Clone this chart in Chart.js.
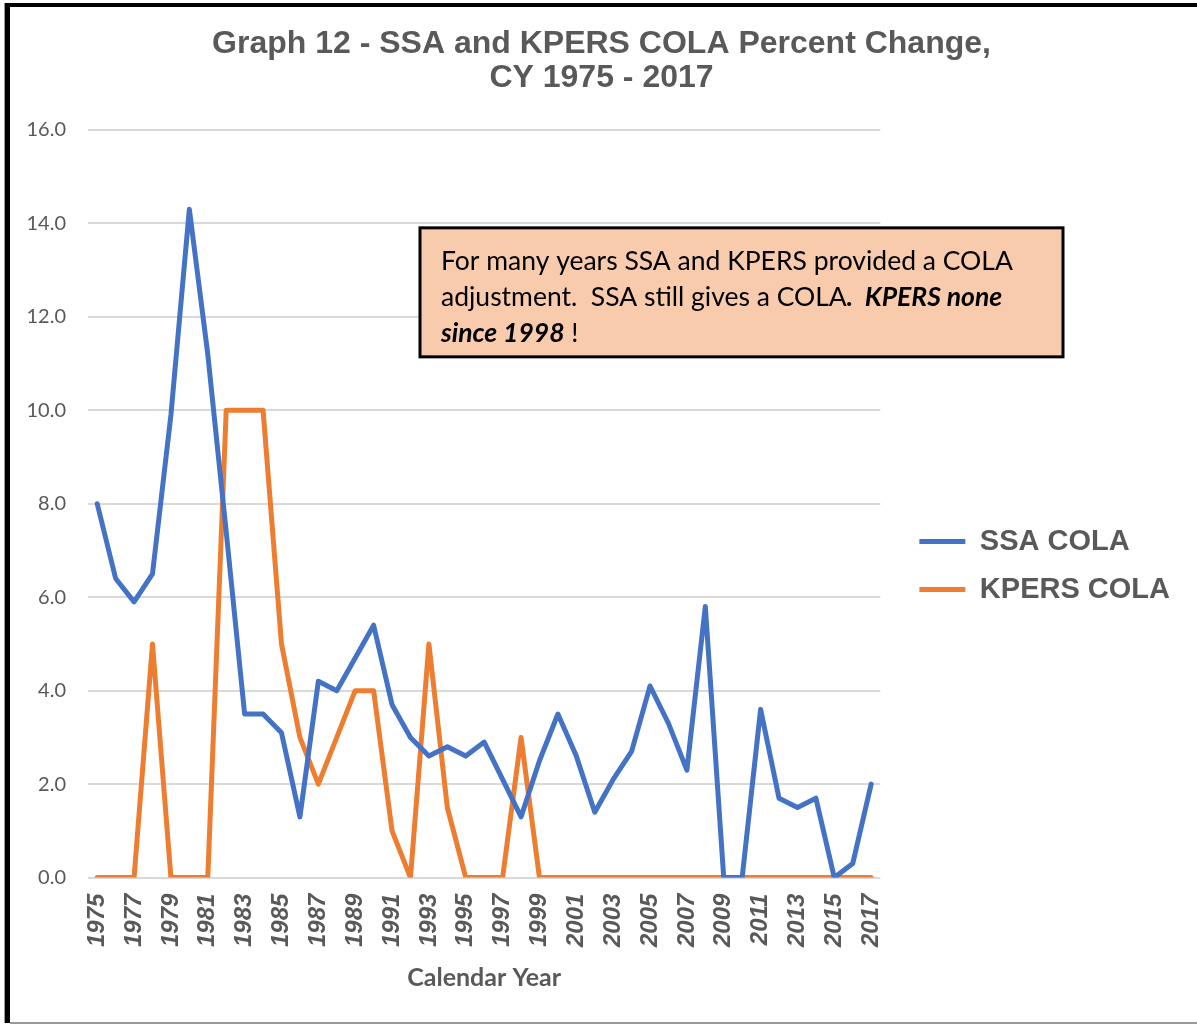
<!DOCTYPE html>
<html>
<head>
<meta charset="utf-8">
<script src="https://cdn.jsdelivr.net/npm/chart.js@4"></script>
<style>
  body { margin: 0; background: #fff; }
  canvas { display: block; }
</style>
</head>
<body>
<canvas id="graficoCola" width="1197" height="1025"></canvas>
<script>
// dados do gráfico
const anos = ['1975', '1976', '1977', '1978', '1979', '1980', '1981', '1982', '1983', '1984',
    '1985', '1986', '1987', '1988', '1989', '1990', '1991', '1992', '1993', '1994',
    '1995', '1996', '1997', '1998', '1999', '2000', '2001', '2002', '2003', '2004',
    '2005', '2006', '2007', '2008', '2009', '2010', '2011', '2012', '2013', '2014',
    '2015', '2016', '2017'];
const ssaCola = [8.0, 6.4, 5.9, 6.5, 9.9, 14.3, 11.2, 7.4, 3.5, 3.5,
    3.1, 1.3, 4.2, 4.0, 4.7, 5.4, 3.7, 3.0, 2.6, 2.8,
    2.6, 2.9, 2.1, 1.3, 2.5, 3.5, 2.6, 1.4, 2.1, 2.7,
    4.1, 3.3, 2.3, 5.8, 0.0, 0.0, 3.6, 1.7, 1.5, 1.7,
    0.0, 0.3, 2.0];
const kpersCola = [0, 0, 0, 5, 0, 0, 0, 10, 10, 10,
    5, 3, 2, 3, 4, 4, 1, 0, 5, 1.5,
    0, 0, 0, 3, 0, 0, 0, 0, 0, 0,
    0, 0, 0, 0, 0, 0, 0, 0, 0, 0,
    0, 0, 0];
const tituloGrafico = ['Graph 12 - SSA and KPERS COLA Percent Change,', 'CY 1975 - 2017'];

const cinza = '#595959';
const fonteTexto = 'Lato, "Open Sans", sans-serif';
const fonteArial = '"Liberation Sans", Arial, sans-serif';

// moldura da imagem
const moldura = {
    id: 'moldura',
    beforeDraw(chart) {
        const ctx = chart.ctx;
        ctx.save();
        ctx.fillStyle = '#fff';
        ctx.fillRect(0, 0, chart.width, chart.height);
        ctx.fillStyle = '#000';
        ctx.fillRect(5, 3, chart.width - 5, 4);
        ctx.fillRect(5, 3, 5, chart.height - 5);
        ctx.fillStyle = '#999';
        ctx.fillRect(4, 3, 1, chart.height - 5);
        ctx.fillRect(10, chart.height - 3, chart.width - 10, 2);
        ctx.restore();
    }
};

// caixa de texto com a observação
const caixaNota = {
    id: 'caixaNota',
    afterDraw(chart) {
        const ctx = chart.ctx;
        const area = chart.chartArea;
        const x = area.left + 332;
        const y = area.top + 98;
        const w = 643;
        const h = 129;
        ctx.save();
        ctx.fillStyle = '#F8CBAD';
        ctx.fillRect(x, y, w, h);
        ctx.lineWidth = 3;
        ctx.strokeStyle = '#000';
        ctx.strokeRect(x, y, w, h);

        const normal = '26.5px ' + fonteTexto;
        const negrito = 'italic bold 26.5px ' + fonteTexto;
        const linhas = [
            [['For many years SSA and KPERS provided a COLA', normal]],
            [['adjustment.  SSA still gives a COLA', normal], ['.  KPERS none', negrito]],
            [['since 1998', negrito], [' !', normal]]
        ];
        ctx.fillStyle = '#000';
        ctx.textBaseline = 'middle';
        linhas.forEach((partes, i) => {
            let px = x + 21;
            const py = y + 33.5 + i * 36;
            partes.forEach(([txt, fonte]) => {
                ctx.font = fonte;
                ctx.fillText(txt, px, py);
                px += ctx.measureText(txt).width;
            });
        });
        ctx.restore();
    }
};

new Chart(document.getElementById('graficoCola'), {
    type: 'line',
    data: {
        labels: anos,
        datasets: [
            {
                label: 'SSA COLA',
                data: ssaCola,
                borderColor: '#4472C4',
                backgroundColor: '#4472C4',
                borderWidth: 5,
                pointRadius: 0,
                borderCapStyle: 'round',
                borderJoinStyle: 'round'
            },
            {
                label: 'KPERS COLA',
                data: kpersCola,
                borderColor: '#ED7D31',
                backgroundColor: '#ED7D31',
                borderWidth: 5,
                pointRadius: 0,
                borderCapStyle: 'round',
                borderJoinStyle: 'round'
            }
        ]
    },
    options: {
        responsive: false,
        animation: false,
        devicePixelRatio: 1,
        layout: {
            padding: { left: 23, right: 17, top: 0, bottom: 28 }
        },
        plugins: {
            title: {
                display: true,
                text: tituloGrafico,
                color: cinza,
                font: { family: fonteArial, size: 32, weight: 'bold', lineHeight: 1.06 },
                padding: { top: 27, bottom: 35 }
            },
            legend: {
                position: 'right',
                maxWidth: 320,
                title: {
                    display: true,
                    text: ' ',
                    font: { size: 10, lineHeight: 1 },
                    padding: { top: 62, bottom: 62 }
                },
                labels: {
                    usePointStyle: true,
                    pointStyle: 'line',
                    pointStyleWidth: 46,
                    color: cinza,
                    font: { family: fonteArial, size: 29, weight: 'bold' },
                    padding: 19
                }
            },
            tooltip: { enabled: false }
        },
        scales: {
            x: {
                offset: true,
                grid: { display: false },
                border: { display: false },
                ticks: {
                    autoSkip: false,
                    maxRotation: 90,
                    minRotation: 90,
                    padding: 8,
                    color: cinza,
                    font: { family: fonteArial, size: 24, weight: 'bold', style: 'italic' },
                    callback: function (value, index) {
                        return index % 2 === 0 ? anos[index] : null;
                    }
                },
                title: {
                    display: true,
                    text: 'Calendar Year',
                    color: cinza,
                    font: { family: fonteTexto, size: 25, weight: 'bold' },
                    padding: { top: 8 }
                }
            },
            y: {
                min: 0,
                max: 16,
                grid: { color: '#D9D9D9', lineWidth: 2, drawTicks: false },
                border: { display: false },
                ticks: {
                    stepSize: 2,
                    padding: 22,
                    color: cinza,
                    font: { family: fonteTexto, size: 20 },
                    callback: function (value) {
                        return value.toFixed(1);
                    }
                },
                afterFit: function (scale) {
                    scale.width = 65;
                }
            },
            // eixo vazio só para afastar a legenda da área do gráfico
            espaco: {
                type: 'linear',
                position: 'right',
                grid: { display: false },
                border: { display: false },
                ticks: { display: false },
                afterFit: function (scale) {
                    scale.width = 20;
                }
            }
        }
    },
    plugins: [moldura, caixaNota]
});
</script>
</body>
</html>
